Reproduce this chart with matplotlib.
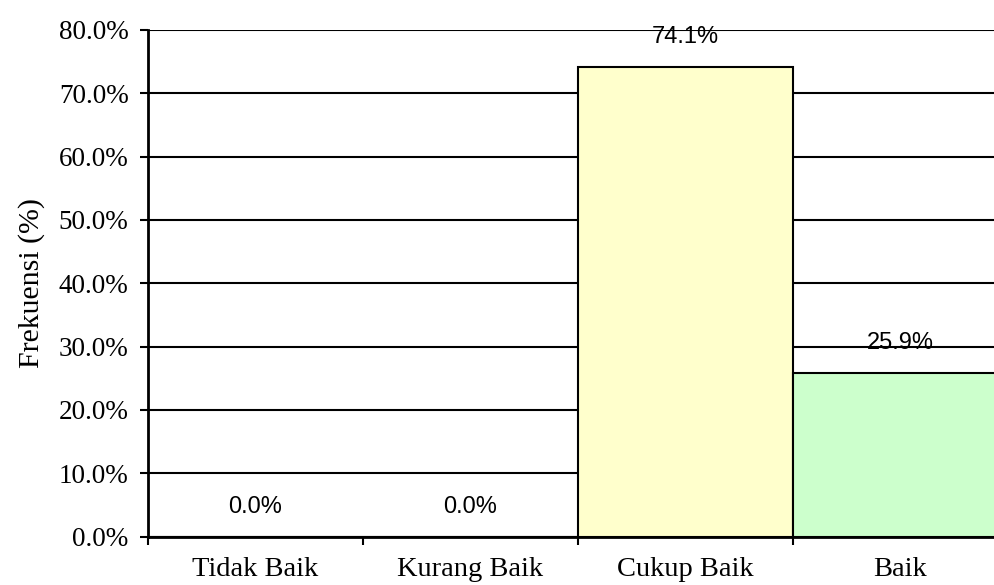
import matplotlib
matplotlib.use("Agg")
from matplotlib import pyplot as plt
import numpy as np

# Data
kategori = ["Tidak Baik", "Kurang Baik", "Cukup Baik", "Baik"]
frekuensi = [0.0, 0.0, 74.1, 25.9]
warna = ["#FFFFFF", "#FFFFFF", "#FFFFCC", "#CCFFCC"]
y_ticks = [0, 10, 20, 30, 40, 50, 60, 70, 80]

serif = "Liberation Serif"
sans = "Liberation Sans"

fig = plt.figure(figsize=(9.95, 5.85), dpi=100)
# eixo passa do lado direito da figura (como no original, cortado)
ax = fig.add_axes([148 / 995, 1 - 536.5 / 585, (1008 - 148) / 995, (536.5 - 30) / 585])

x = np.arange(len(kategori))
ax.bar(x, frekuensi, width=1.0, color=warna, edgecolor="black", linewidth=1.5, zorder=3)

# rótulos de valor
for xi, v in zip(x, frekuensi):
    ax.annotate(f"{v:.1f}%", (xi, v), xytext=(0, 21.5), textcoords="offset points",
                ha="center", va="center", fontsize=17, family=sans, zorder=4)

ax.set_xlim(-0.5, len(kategori) - 0.5)
ax.set_ylim(0, 80)
ax.set_yticks(y_ticks)
ax.set_yticklabels([f"{t:.1f}%" for t in y_ticks], family=serif, fontsize=19.5)
ax.yaxis.grid(True, color="black", linewidth=1.5)
ax.set_axisbelow(True)

ax.set_xticks(x)
ax.set_xticklabels(kategori, family=serif, fontsize=20.5)
ax.set_xticks(np.arange(-0.5, len(kategori)), minor=True)
ax.tick_params(axis="x", which="major", length=0, pad=15)
ax.tick_params(axis="x", which="minor", length=6, width=1.5, direction="out")
ax.tick_params(axis="y", length=6, width=1.5, pad=8)

for s in ["top", "right"]:
    ax.spines[s].set_visible(False)
for s in ["left", "bottom"]:
    ax.spines[s].set_linewidth(2)

ax.set_ylabel("Frekuensi (%)", family=serif, fontsize=21.5, labelpad=10)

fig.savefig("out.png", dpi=100)
